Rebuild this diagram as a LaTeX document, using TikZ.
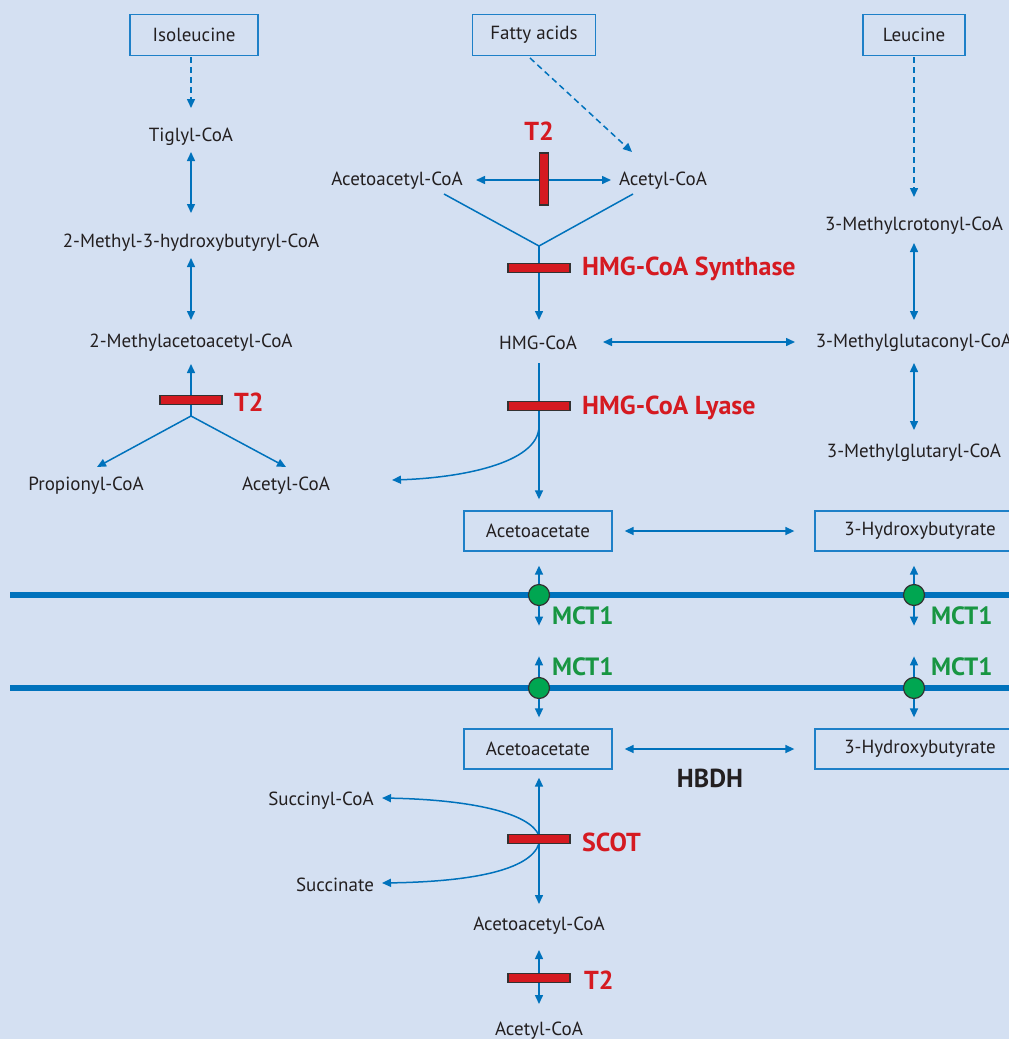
\documentclass[tikz,border=0pt]{standalone}
\usepackage{fontspec}
\setmainfont{PT Sans}
\usetikzlibrary{arrows.meta,calc}
\definecolor{bgc}{RGB}{212,224,242}
\definecolor{flowblue}{RGB}{0,114,188}
\definecolor{boxblue}{RGB}{30,128,200}
\definecolor{enzred}{RGB}{213,26,33}
\definecolor{bardark}{RGB}{50,50,50}
\definecolor{mctfill}{RGB}{0,166,81}
\definecolor{mctgreen}{RGB}{24,150,66}
\definecolor{ink}{RGB}{35,31,32}
\begin{document}
\begin{tikzpicture}[x=1pt,y=-1pt,
  lbl/.style={font=\fontsize{19}{22}\selectfont, text=ink, inner sep=0pt},
  srcbox/.style={lbl, draw=boxblue, line width=1.3pt, minimum height=41pt},
  flow/.style={draw=flowblue, line width=1.5pt},
  tip/.style={-{Triangle[length=9pt,width=8pt]}},
  dtip/.style={{Triangle[length=9pt,width=8pt]}-{Triangle[length=9pt,width=8pt]}},
  dashflow/.style={dash pattern=on 6pt off 4pt},
  membrane/.style={draw=flowblue, line width=6pt},
  enz/.style={font=\fontsize{26}{30}\selectfont\bfseries, text=enzred, inner sep=0pt},
  hbar/.style={draw=bardark, fill=enzred, line width=1.2pt, minimum width=62pt, minimum height=9pt, inner sep=0pt},
  vbar/.style={draw=bardark, fill=enzred, line width=1.2pt, minimum width=9pt, minimum height=52pt, inner sep=0pt},
  carrier/.style={circle, draw=bardark, fill=mctfill, line width=1.2pt, minimum size=21pt, inner sep=0pt},
  mct/.style={font=\fontsize{25}{29}\selectfont\bfseries, text=mctgreen, anchor=west, inner sep=0pt}
]
% canvas
\fill[bgc] (0,0) rectangle (1009,1039);
\useasboundingbox (0,0) rectangle (1009,1039);

% cell membranes
\coordinate (m1l) at (10,595);  \coordinate (m1r) at (1009,595);
\coordinate (m2l) at (10,688);  \coordinate (m2r) at (1009,688);
\draw[membrane] (m1l) -- (m1r);
\draw[membrane] (m2l) -- (m2r);

% precursors
\node[srcbox, minimum width=128pt] (iso) at (194,35) {Isoleucine};
\node[srcbox, minimum width=123pt] (fa)  at (534,35) {Fatty acids};
\node[srcbox, minimum width=102pt] (leu) at (914,35) {Leucine};

% isoleucine branch
\node[lbl] (tig) at (191,137) {Tiglyl-CoA};
\node[lbl] (m3h) at (191,243) {2-Methyl-3-hydroxybutyryl-CoA};
\node[lbl] (mac) at (191,343) {2-Methylacetoacetyl-CoA};
\node[lbl] (prop) at (86,486) {Propionyl-CoA};
\node[lbl] (acl) at (286,486) {Acetyl-CoA};
\coordinate (jl) at (191,416);

% central branch
\node[lbl] (aacT) at (397,181) {Acetoacetyl-CoA};
\node[lbl] (acT)  at (663,181) {Acetyl-CoA};
\node[lbl] (hmg)  at (538,343) {HMG-CoA};
\coordinate (jt) at (539,246);

% leucine branch
\node[lbl] (mcr) at (914,226) {3-Methylcrotonyl-CoA};
\node[lbl] (mgc) at (914,343) {3-Methylglutaconyl-CoA};
\node[lbl] (mgr) at (914,453) {3-Methylglutaryl-CoA};

% ketone bodies
\node[srcbox, minimum width=148pt, minimum height=40pt] (aca1) at (538,531) {Acetoacetate};
\node[srcbox, minimum width=210pt, minimum height=40pt] (hb1)  at (920,531) {3-Hydroxybutyrate};
\node[srcbox, minimum width=148pt, minimum height=40pt] (aca2) at (538,749) {Acetoacetate};
\node[srcbox, minimum width=210pt, minimum height=40pt] (hb2)  at (920,749) {3-Hydroxybutyrate};

% ketolysis
\node[lbl] (succoa) at (321,801) {Succinyl-CoA};
\node[lbl] (succ)   at (335,885) {Succinate};
\node[lbl] (aacB)   at (539,926) {Acetoacetyl-CoA};
\node[lbl] (acB)    at (539,1031) {Acetyl-CoA};

% ---- connectors ----
\draw[flow, dashflow, tip] ($(tig)+(0,-80)$) -- ($(tig)+(0,-29)$);
\draw[flow, dtip] ($(tig)+(0,15)$) -- ($(m3h)+(0,-30)$);
\draw[flow, dtip] ($(m3h)+(0,15)$) -- ($(mac)+(0,-23)$);
\draw[flow, tip] (jl) -- ($(mac)+(0,21)$);
\draw[flow, tip] (jl) -- ($(prop)+(11,-19)$);
\draw[flow, tip] (jl) -- ($(acl)+(0,-19)$);

\draw[flow, dashflow, tip] ($(fa)+(-4,23)$) -- ($(acT)+(-31,-29)$);
\draw[flow, dtip] ($(aacT)+(79,-1)$) -- ($(acT)+(-52,-1)$);
\draw[flow] ($(aacT)+(47,13)$) -- (jt) -- ($(acT)+(-30,13)$);
\draw[flow, tip] (jt) -- ($(hmg)+(1,-23)$);
\draw[flow, dtip] ($(hmg)+(65,-1)$) -- ($(mgc)+(-119,-1)$);
\draw[flow, tip] ($(hmg)+(1,20)$) -- ($(aca1.north)+(1,-11)$);
\draw[flow, tip] ($(hmg)+(1,83)$) .. controls ($(hmg)+(1,121)$) and ($(hmg)+(-80,135)$) .. ($(hmg)+(-146,137)$);

\draw[flow, dashflow, tip] ($(leu)+(0,22)$) -- ($(mcr)+(0,-29)$);
\draw[flow, dtip] ($(mcr)+(0,17)$) -- ($(mgc)+(0,-23)$);
\draw[flow, dtip] ($(mgc)+(0,20)$) -- ($(mgr)+(0,-23)$);

\draw[flow, dtip] ($(aca1.east)+(12,0)$) -- ($(hb1.west)+(-20,0)$);
\draw[flow, dtip] ($(aca2.east)+(12,0)$) -- ($(hb2.west)+(-20,0)$);

% transport across the membranes
\draw[flow, dtip] ($(aca1.south)+(1,14)$) -- ($(aca1.south)+(1,74)$);
\draw[flow, dtip] ($(hb1.south)+(-6,14)$) -- ($(hb1.south)+(-6,74)$);
\draw[flow, dtip] ($(aca2.north)+(1,-72)$) -- ($(aca2.north)+(1,-11)$);
\draw[flow, dtip] ($(hb2.north)+(-6,-72)$) -- ($(hb2.north)+(-6,-11)$);

\draw[flow, dtip] ($(aca2.south)+(1,8)$) -- ($(aacB)+(0,-22)$);
\draw[flow, tip] ($(aca2.south)+(1,66)$) .. controls ($(aca2.south)+(-8,43)$) and ($(aca2.south)+(-68,30)$) .. ($(succoa)+(61,-3)$);
\draw[flow, tip] ($(aca2.south)+(1,74)$) .. controls ($(aca2.south)+(-8,101)$) and ($(aca2.south)+(-68,112)$) .. ($(succ)+(47,-2)$);
\draw[flow, dtip] ($(aacB)+(0,24)$) -- ($(acB)+(0,-27)$);

% ---- enzymes ----
\node[vbar] (tbar) at (544,179) {};
\node[enz] (t2top) at (539,131) {T2};
\node[hbar] (synbar) at (539,268) {};
\node[enz, anchor=west] (synth) at (582,269) {HMG-CoA Synthase};
\node[hbar] (lybar) at (539,406) {};
\node[enz, anchor=west] (lyase) at (582,408) {HMG-CoA Lyase};
\node[hbar] (lbar) at (191,400) {};
\node[enz, anchor=west] (t2left) at (234,402) {T2};
\node[hbar] (scotbar) at (539,839) {};
\node[enz, anchor=west] (scot) at (582,842) {SCOT};
\node[hbar] (bbar) at (539,978) {};
\node[enz, anchor=west] (t2bot) at (584,980) {T2};
\node[enz, text=ink] (hbdh) at (710,778) {HBDH};

% ---- MCT1 carriers ----
\node[carrier] (c1) at (539,595) {};
\node[carrier] (c2) at (914,595) {};
\node[carrier] (c3) at (539,688) {};
\node[carrier] (c4) at (914,688) {};
\node[mct] (mct1) at (552,616) {MCT1};
\node[mct] (mct2) at (931,616) {MCT1};
\node[mct] (mct3) at (552,667) {MCT1};
\node[mct] (mct4) at (931,667) {MCT1};
\end{tikzpicture}
\end{document}
